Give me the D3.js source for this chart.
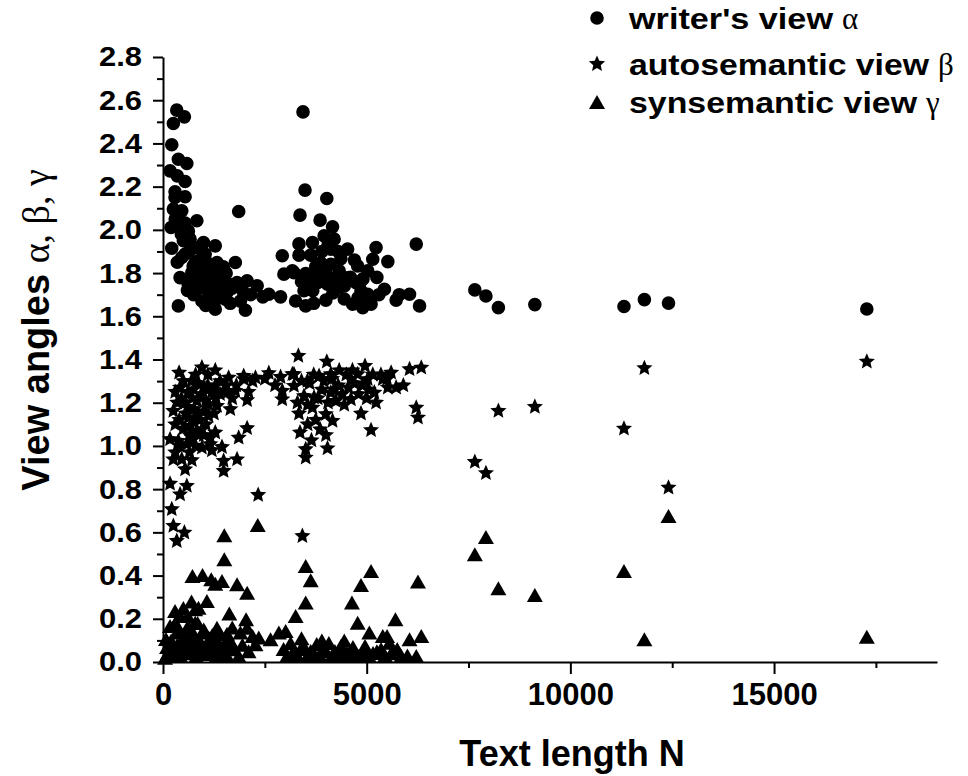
<!DOCTYPE html>
<html>
<head>
<meta charset="utf-8">
<script src="https://cdn.jsdelivr.net/npm/d3@7"></script>
<style>
  body { margin: 0; background: #fff; }
  svg { display: block; }
  text { fill: #000; }
</style>
</head>
<body>
<svg id="chart" width="968" height="776"></svg>
<script>
// Text length N and the three view angles, one [N, angle] pair per text.
const writerView = [
  [338,2.554],[525,2.523],[254,2.492],[215,2.394],[377,2.327],[585,2.307],[173,2.273],[543,2.224],
  [296,2.176],[296,2.150],[543,2.153],[254,2.096],[461,2.088],[831,2.042],[197,2.011],[419,2.011],
  [624,1.995],[666,1.957],[1858,2.085],[215,1.915],[461,1.872],[543,1.888],[994,1.941],[1283,1.926],
  [871,1.918],[1776,1.849],[1325,1.849],[1036,1.888],[789,1.849],[419,1.779],[708,1.802],[955,1.810],
  [1201,1.802],[1406,1.795],[871,1.756],[1118,1.749],[1364,1.756],[1611,1.749],[1818,1.756],[2065,1.764],
  [2312,1.741],[2598,1.702],[2886,1.690],[1283,1.718],[1571,1.710],[1981,1.710],[955,1.671],[1530,1.679],
  [377,1.648],[1283,1.633],[2023,1.628],[2928,1.880],[2968,1.795],[3175,1.810],[740,1.833],[1085,1.847],
  [814,1.718],[1159,1.694],[617,1.750],[1480,1.829],[1036,1.764],[543,2.032],
  [650,1.900],[900,1.860],[1150,1.830],[1250,1.780],[1450,1.760],[1000,1.790],[700,1.770],[1200,1.740],
  [1400,1.720],[850,1.800],[1100,1.720],[1700,1.730],[500,1.950],[350,1.850],[1550,1.800],[1320,1.680],
  [750,1.700],[1050,1.650],[1900,1.670],[1650,1.660],[2150,1.700],[2450,1.690],[600,1.720],[300,2.050],
  [450,1.980],[350,2.250],
  [3437,2.546],[3486,2.184],[4021,2.145],[3363,2.068],[3856,2.045],[4162,2.014],[3338,1.935],[3668,1.941],
  [3955,1.972],[4201,1.957],[3338,1.883],[3626,1.883],[4120,1.911],[4532,1.911],[5230,1.918],[5519,1.853],
  [5149,1.864],[6217,1.934],[3215,1.802],[3503,1.798],[3831,1.802],[4120,1.841],[4325,1.810],[4779,1.833],
  [5025,1.810],[3792,1.756],[4038,1.749],[4325,1.733],[3461,1.718],[4737,1.756],[4860,1.718],[3256,1.671],
  [3503,1.648],[3997,1.675],[4655,1.656],[4902,1.640],[5107,1.656],[5025,1.702],[5435,1.725],[5723,1.675],
  [6052,1.702],[6298,1.648],[3873,1.847],[4367,1.866],[4490,1.778],[3676,1.718],[4169,1.708],[4786,1.685],
  [4909,1.773],[3600,1.780],[3750,1.830],[4000,1.800],[4250,1.780],[4450,1.740],[4600,1.780],[4850,1.760],
  [3700,1.660],[4450,1.680],[5300,1.700],[4950,1.680],[3900,1.900],[4300,1.900],[3550,1.740],[5250,1.780],
  [5800,1.700],[3400,1.760],[4700,1.860],[4050,1.930],
  [7655,1.722],[7927,1.694],[8233,1.640],[9128,1.654],[11316,1.645],[11817,1.677],[12409,1.661],[17277,1.634]
];

const autosemanticView = [
  [395,1.339],[955,1.363],[1283,1.350],[1611,1.316],[1981,1.324],[2270,1.316],[2598,1.337],[2886,1.319],
  [3175,1.332],[3323,1.417],[419,1.270],[748,1.262],[994,1.270],[1283,1.278],[1488,1.255],[1776,1.255],
  [1981,1.309],[254,1.162],[543,1.200],[831,1.208],[1118,1.193],[1325,1.185],[1653,1.170],[2065,1.212],
  [2928,1.216],[2928,1.255],[624,1.131],[871,1.147],[1118,1.139],[666,1.093],[831,1.069],[708,1.038],
  [1283,1.062],[2065,1.082],[1858,1.038],[173,1.031],[377,1.023],[585,1.008],[955,0.992],[1159,1.008],
  [1448,0.995],[254,0.938],[461,0.938],[708,0.934],[1488,0.931],[1488,0.884],[1818,0.938],[543,0.892],
  [173,0.825],[585,0.815],[419,0.776],[215,0.707],[254,0.630],[525,0.599],[338,0.560],[2336,0.773],
  [955,1.077],[1159,1.038],[700,1.300],[870,1.290],[1100,1.280],[1400,1.300],[560,1.150],[760,1.170],
  [1000,1.160],[900,1.120],[650,1.050],[800,1.000],[1050,1.100],[1300,1.220],[1700,1.220],[1550,1.280],
  [2200,1.300],[2500,1.310],
  [300,1.250],[350,1.200],[450,1.220],[500,1.300],[620,1.250],[720,1.220],[950,1.240],[1050,1.210],
  [1200,1.250],[1400,1.240],[1600,1.250],[1800,1.280],[500,1.080],[400,1.120],[600,1.180],[750,1.120],
  [880,1.050],[1000,1.050],[1250,1.150],[400,1.000],[300,0.970],[650,0.970],[1200,0.980],[300,1.100],
  [2100,1.250],[2750,1.280],[1100,1.330],[800,1.330],
  [4021,1.390],[4325,1.350],[4959,1.370],[5600,1.339],[6052,1.355],[6340,1.362],[3215,1.332],[3545,1.301],
  [3831,1.324],[4120,1.332],[4613,1.309],[4779,1.332],[5025,1.309],[5395,1.309],[3215,1.278],[3461,1.231],
  [3708,1.224],[4120,1.247],[4243,1.208],[4613,1.216],[5188,1.247],[5230,1.200],[5519,1.270],[5723,1.270],
  [3338,1.150],[3668,1.177],[3997,1.147],[4162,1.116],[4860,1.150],[6217,1.177],[6259,1.131],[3363,1.062],
  [3856,1.077],[5107,1.073],[3644,1.026],[3503,0.985],[3503,0.946],[4038,0.989],[3422,0.583],
  [3600,1.290],[3950,1.300],[4300,1.280],[4700,1.290],[4900,1.280],[5350,1.330],[3800,1.220],[4050,1.200],
  [4400,1.240],[3550,1.190],[5050,1.260],[4550,1.270],[4150,1.310],
  [3400,1.300],[3700,1.330],[3900,1.260],[4200,1.260],[4450,1.190],[4800,1.240],[5000,1.220],[5500,1.310],
  [5900,1.280],[3300,1.200],[3750,1.120],[4000,1.050],[3550,1.100],[4500,1.330],[4650,1.350],[5150,1.330],
  [7655,0.926],[7927,0.874],[8233,1.162],[9128,1.181],[11316,1.080],[11817,1.360],[12409,0.807],[17277,1.390]
];

const synsemanticView = [
  [1505,0.587],[2326,0.634],[1505,0.475],[3503,0.444],[3626,0.378],[5107,0.421],[4860,0.356],[6259,0.372],
  [723,0.398],[970,0.403],[1184,0.383],[1283,0.362],[1448,0.375],[1818,0.360],[2065,0.321],[1078,0.282],
  [871,0.251],[789,0.244],[419,0.213],[609,0.213],[1628,0.224],[2040,0.198],[3503,0.275],[3256,0.213],
  [4638,0.275],[4779,0.182],[5706,0.198],[5065,0.136],[5395,0.120],[5558,0.089],[6052,0.105],[6340,0.120],
  [6217,0.028],[789,0.182],[338,0.136],[1036,0.136],[1325,0.159],[1571,0.131],[1900,0.136],[2065,0.159],
  [2351,0.113],[2640,0.105],[2844,0.136],[3010,0.144],[2270,0.082],[1695,0.059],[1858,0.028],
  [123,0.042],[222,0.074],[321,0.028],[444,0.093],[567,0.042],[691,0.079],[814,0.028],[937,0.069],
  [1061,0.037],[1184,0.088],[1307,0.028],[1431,0.065],[1579,0.028],[740,0.134],[1209,0.125],[74,0.106],
  [173,0.167],[493,0.106],[296,0.236],[617,0.167],
  [50,0.020],[100,0.070],[200,0.100],[270,0.050],[350,0.080],[420,0.030],[500,0.070],[550,0.120],
  [650,0.040],[720,0.100],[850,0.060],[900,0.100],[980,0.040],[1100,0.060],[1150,0.110],[1250,0.050],
  [1350,0.090],[1380,0.040],[1500,0.080],[1650,0.100],[1750,0.060],[1950,0.080],[2100,0.050],[2200,0.120],
  [400,0.150],[600,0.130],[850,0.180],[1000,0.150],[1400,0.130],[1700,0.160],[500,0.250],[700,0.280],
  [300,0.180],
  [2960,0.060],[3133,0.088],[3306,0.028],[3454,0.074],[3626,0.051],[3774,0.083],[3922,0.060],[4071,0.088],
  [4219,0.051],[4367,0.074],[4515,0.042],[4663,0.069],[4811,0.028],[4959,0.074],[5156,0.042],[5353,0.060],
  [5847,0.028],[4983,0.028],
  [3050,0.030],[3200,0.050],[3380,0.060],[3550,0.030],[3700,0.040],[3850,0.030],[4000,0.050],[4150,0.030],
  [4300,0.040],[4450,0.030],[4600,0.050],[4700,0.030],[4900,0.050],[5050,0.030],[5250,0.050],[5450,0.030],
  [5600,0.040],[5750,0.060],[6000,0.030],[3400,0.110],[3900,0.100],[4450,0.100],[5500,0.120],
  [7655,0.499],[7927,0.579],[8233,0.341],[9128,0.310],[11316,0.421],[11817,0.105],[12409,0.676],[17277,0.117]
];

const xMajorTicks = [0, 5000, 10000, 15000];
const xMinorTicks = [2500, 7500, 12500, 17500];
const yMajorTicks = [0.0, 0.2, 0.4, 0.6, 0.8, 1.0, 1.2, 1.4, 1.6, 1.8, 2.0, 2.2, 2.4, 2.6, 2.8];
const yMinorTicks = [0.1, 0.3, 0.5, 0.7, 0.9, 1.1, 1.3, 1.5, 1.7, 1.9, 2.1, 2.3, 2.5, 2.7];

const legendItems = [
  { label: "writer's view", greek: "\u03b1", width: 204 },
  { label: "autosemantic view", greek: "\u03b2", width: 300 },
  { label: "synsemantic view", greek: "\u03b3", width: 288 }
];

const svg = d3.select("#chart");
const SANS = "'Liberation Sans', Arial, Helvetica, sans-serif";
const SERIF = "'Liberation Serif', 'Times New Roman', serif";

const x = d3.scaleLinear().domain([0, 19000]).range([163, 937]);
const y = d3.scaleLinear().domain([0, 2.8]).range([662, 57]);

// Triangle centred on its bounding box (width w, height ~0.875 w)
const boxTriangle = {
  draw(ctx, size) {
    const w = Math.sqrt(size);
    const h = w * 0.875;
    ctx.moveTo(0, -h / 2);
    ctx.lineTo(w / 2, h / 2);
    ctx.lineTo(-w / 2, h / 2);
    ctx.closePath();
  }
};

// Five-pointed star with fairly wide arms; size is the squared outer diameter
const wideStar = {
  draw(ctx, size) {
    const R = Math.sqrt(size) / 2;
    const r = R * 0.46;
    for (let i = 0; i < 10; i++) {
      const a = -Math.PI / 2 + i * Math.PI / 5;
      const rad = i % 2 ? r : R;
      const px = rad * Math.cos(a), py = rad * Math.sin(a);
      if (i === 0) ctx.moveTo(px, py); else ctx.lineTo(px, py);
    }
    ctx.closePath();
  }
};

const markers = [
  { data: writerView, path: d3.symbol(d3.symbolCircle, Math.PI * 6.8 * 6.8) },
  { data: autosemanticView, path: d3.symbol(wideStar, 17 * 17) },
  { data: synsemanticView, path: d3.symbol(boxTriangle, 16 * 16) }
];

// Axes
const axisStyle = g => {
  g.select(".domain").attr("stroke", "#000").attr("stroke-width", 2);
  g.selectAll(".tick line").attr("stroke", "#000").attr("stroke-width", 2);
};

svg.append("g")
  .attr("transform", `translate(0,${y(0)})`)
  .call(d3.axisBottom(x).tickValues(xMinorTicks).tickSize(6).tickSizeOuter(0).tickFormat(""))
  .call(axisStyle);

const xAxis = svg.append("g")
  .attr("transform", `translate(0,${y(0)})`)
  .call(d3.axisBottom(x).tickValues(xMajorTicks).tickSize(12).tickSizeOuter(0).tickPadding(9).tickFormat(d3.format("d")))
  .call(axisStyle);
xAxis.selectAll(".tick text")
  .attr("font-family", SANS).attr("font-weight", "bold").attr("font-size", 31);
xAxis.select(".domain").remove();

svg.append("g")
  .attr("transform", `translate(${x(0)},0)`)
  .call(d3.axisLeft(y).tickValues(yMinorTicks).tickSize(6).tickSizeOuter(0).tickFormat(""))
  .call(axisStyle);

const yAxis = svg.append("g")
  .attr("transform", `translate(${x(0)},0)`)
  .call(d3.axisLeft(y).tickValues(yMajorTicks).tickSize(10).tickSizeOuter(0).tickPadding(11).tickFormat(d3.format(".1f")))
  .call(axisStyle);
yAxis.selectAll(".tick text")
  .attr("font-family", SANS).attr("font-weight", "bold").attr("font-size", 28)
  .attr("textLength", 43).attr("lengthAdjust", "spacingAndGlyphs");
yAxis.select(".domain").remove();

// Markers
markers.forEach(m => {
  svg.append("g").selectAll("path")
    .data(m.data)
    .join("path")
    .attr("transform", d => `translate(${x(d[0])},${y(d[1])})`)
    .attr("d", m.path)
    .attr("fill", "#000");
});

// Axis titles
svg.append("text")
  .attr("x", 572).attr("y", 766)
  .attr("text-anchor", "middle")
  .attr("font-family", SANS).attr("font-weight", "bold").attr("font-size", 36)
  .text("Text length N");

const yTitle = svg.append("text")
  .attr("transform", "translate(49,330) rotate(-90)")
  .attr("text-anchor", "middle")
  .attr("font-family", SANS).attr("font-weight", "bold").attr("font-size", 38);
yTitle.append("tspan").text("View angles ");
yTitle.append("tspan").attr("font-family", SERIF).attr("font-weight", "normal").text("\u03b1, \u03b2, \u03b3");

// Legend
const legendY = [18, 64, 102];
const legend = svg.append("g");
legendItems.forEach((item, i) => {
  legend.append("path")
    .attr("transform", `translate(597,${legendY[i]})`)
    .attr("d", markers[i].path())
    .attr("fill", "#000");
  legend.append("text")
    .attr("x", 629).attr("y", legendY[i] + 11)
    .attr("font-family", SANS).attr("font-weight", "bold").attr("font-size", 30)
    .attr("textLength", item.width).attr("lengthAdjust", "spacingAndGlyphs")
    .text(item.label);
  legend.append("text")
    .attr("x", 629 + item.width + 9).attr("y", legendY[i] + 11)
    .attr("font-family", SERIF).attr("font-size", 31)
    .text(item.greek);
});
</script>
</body>
</html>
